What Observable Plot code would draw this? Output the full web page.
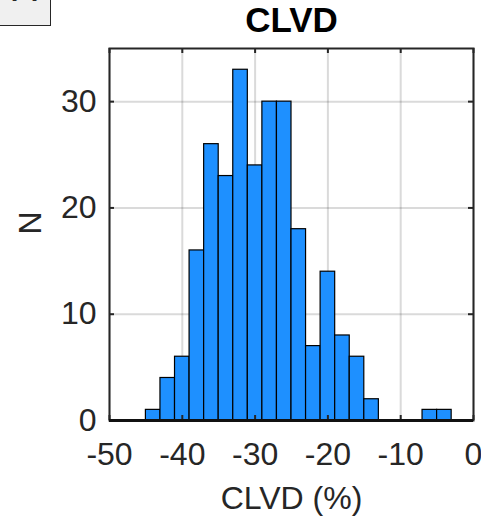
<!DOCTYPE html>
<html>
<head>
<meta charset="utf-8">
<script src="https://cdn.jsdelivr.net/npm/d3@7"></script>
<script src="https://cdn.jsdelivr.net/npm/@observablehq/plot@0.6"></script>
<style>
  html, body { margin: 0; padding: 0; background: #fff; }
  #wrap { position: relative; width: 481px; height: 520px; overflow: hidden; }
  #corner { position: absolute; left: -2px; top: -30px; width: 53px; height: 56px;
    background: #f0f0f0; border: 1.5px solid #262626; box-sizing: border-box;
    font: bold 28px "Liberation Sans", Arial, sans-serif; color: #262626; text-align: center; line-height: 30px; }
</style>
</head>
<body>
<div id="wrap"><div id="corner">(c)</div></div>
<script>
// Histogram bin edges (CLVD %), counts per bin
const binLower = [-45, -43, -41, -39, -37, -35, -33, -31, -29, -27, -25, -23, -21, -19, -17, -15, -13, -11, -9, -7, -5];
const binUpper = [-43, -41, -39, -37, -35, -33, -31, -29, -27, -25, -23, -21, -19, -17, -15, -13, -11, -9, -7, -5, -3];
const counts   = [1, 4, 6, 16, 26, 23, 33, 24, 30, 30, 18, 7, 14, 8, 6, 2, 0, 0, 0, 1, 1];
const xTicks = [-50, -40, -30, -20, -10, 0];
const yTicks = [0, 10, 20, 30];
const titleText = "CLVD";
const xLabel = "CLVD (%)";
const yLabel = "N";

const bins = binLower.map((lo, i) => ({lo, hi: binUpper[i], n: counts[i]})).filter(d => d.n > 0);

const W = 481, H = 520, mL = 109, mR = 8, mT = 48, mB = 100;
const fw = W - mL - mR, fh = H - mT - mB;
const ink = "#262626";
const fmt = d => String(d);

const chart = Plot.plot({
  width: W, height: H,
  marginLeft: mL, marginRight: mR, marginTop: mT, marginBottom: mB,
  x: {domain: [-50, 0], axis: null},
  y: {domain: [0, 35], axis: null},
  style: {fontFamily: "'Liberation Sans', Arial, sans-serif", fontSize: "32px", color: ink, background: "white"},
  marks: [
    Plot.gridX(xTicks, {stroke: ink, strokeOpacity: 0.17, strokeWidth: 2}),
    Plot.gridY(yTicks, {stroke: ink, strokeOpacity: 0.17, strokeWidth: 2}),
    Plot.rectY(bins, {x1: "lo", x2: "hi", y: "n", fill: "#1e90ff", stroke: "#000", strokeWidth: 1.2}),
    Plot.tickX(xTicks, {x: d => d, stroke: ink, strokeWidth: 2, insetTop: fh - 5}),
    Plot.tickX(xTicks, {x: d => d, stroke: ink, strokeWidth: 2, insetBottom: fh - 5}),
    Plot.tickY(yTicks, {y: d => d, stroke: ink, strokeWidth: 2, insetRight: fw - 5}),
    Plot.tickY(yTicks, {y: d => d, stroke: ink, strokeWidth: 2, insetLeft: fw - 5}),
    Plot.frame({stroke: ink, strokeWidth: 2}),
    Plot.ruleY([0], {stroke: "#111", strokeWidth: 3}),
    Plot.axisX(xTicks, {anchor: "bottom", tickSize: 0, tickPadding: 22, tickFormat: fmt, fontSize: 32, fill: ink, label: null}),
    Plot.axisY(yTicks, {anchor: "left", tickSize: 0, tickPadding: 13, tickFormat: fmt, fontSize: 32, fill: ink, label: null}),
    Plot.text([titleText], {frameAnchor: "top", lineAnchor: "middle", dy: -28, fontSize: 35, fontWeight: "bold", fill: "#000"}),
    Plot.text([xLabel], {frameAnchor: "bottom", lineAnchor: "middle", dy: 78, fontSize: 32, fill: ink}),
    Plot.text([yLabel], {frameAnchor: "left", lineAnchor: "middle", dx: -79, rotate: -90, fontSize: 32, fill: ink})
  ]
});
document.getElementById("wrap").prepend(chart);
</script>
</body>
</html>
